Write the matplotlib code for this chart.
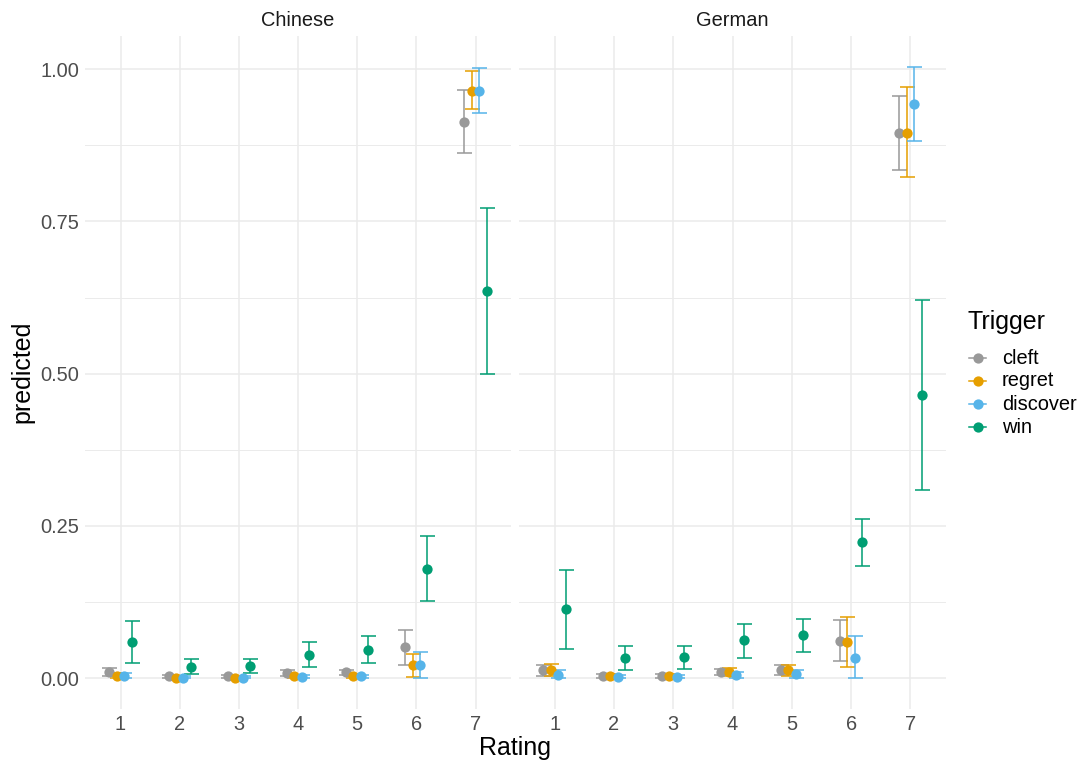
import matplotlib
matplotlib.use("Agg")
import matplotlib.pyplot as plt
from matplotlib.lines import Line2D
import numpy as np

plt.rcParams['font.family'] = ['Liberation Sans', 'DejaVu Sans']

ratings = [1, 2, 3, 4, 5, 6, 7]
triggers = ["cleft", "regret", "discover", "win"]
colors = ["#999999", "#E69F00", "#56B4E9", "#009E73"]
languages = ["Chinese", "German"]

# Chinese
zh_cleft_pred = [0.011, 0.003, 0.003, 0.009, 0.010, 0.051, 0.914]
zh_cleft_lo   = [0.004, 0.000, 0.000, 0.004, 0.005, 0.021, 0.862]
zh_cleft_hi   = [0.017, 0.006, 0.006, 0.013, 0.014, 0.080, 0.966]
zh_regret_pred = [0.004, 0.001, 0.001, 0.003, 0.004, 0.021, 0.964]
zh_regret_lo   = [0.000, 0.000, 0.000, 0.000, 0.001, 0.002, 0.934]
zh_regret_hi   = [0.008, 0.003, 0.003, 0.006, 0.007, 0.040, 0.997]
zh_discover_pred = [0.004, 0.001, 0.001, 0.002, 0.003, 0.021, 0.964]
zh_discover_lo   = [0.000, 0.000, 0.000, 0.000, 0.000, 0.000, 0.928]
zh_discover_hi   = [0.008, 0.003, 0.003, 0.005, 0.006, 0.043, 1.002]
zh_win_pred = [0.059, 0.019, 0.020, 0.038, 0.047, 0.180, 0.635]
zh_win_lo   = [0.025, 0.007, 0.008, 0.018, 0.025, 0.127, 0.499]
zh_win_hi   = [0.094, 0.031, 0.032, 0.059, 0.070, 0.233, 0.772]

# German
de_cleft_pred = [0.013, 0.004, 0.004, 0.010, 0.013, 0.061, 0.895]
de_cleft_lo   = [0.004, 0.001, 0.001, 0.005, 0.005, 0.028, 0.835]
de_cleft_hi   = [0.021, 0.007, 0.007, 0.015, 0.021, 0.095, 0.956]
de_regret_pred = [0.013, 0.004, 0.004, 0.010, 0.013, 0.060, 0.896]
de_regret_lo   = [0.003, 0.001, 0.001, 0.004, 0.004, 0.019, 0.823]
de_regret_hi   = [0.023, 0.007, 0.007, 0.016, 0.022, 0.101, 0.971]
de_discover_pred = [0.006, 0.002, 0.002, 0.005, 0.007, 0.034, 0.943]
de_discover_lo   = [0.000, 0.000, 0.000, 0.000, 0.000, 0.000, 0.882]
de_discover_hi   = [0.013, 0.005, 0.005, 0.010, 0.013, 0.069, 1.004]
de_win_pred = [0.113, 0.034, 0.035, 0.062, 0.071, 0.223, 0.465]
de_win_lo   = [0.048, 0.014, 0.015, 0.033, 0.043, 0.184, 0.309]
de_win_hi   = [0.177, 0.053, 0.053, 0.089, 0.097, 0.261, 0.621]

panels = {
    "Chinese": [(zh_cleft_pred, zh_cleft_lo, zh_cleft_hi),
                (zh_regret_pred, zh_regret_lo, zh_regret_hi),
                (zh_discover_pred, zh_discover_lo, zh_discover_hi),
                (zh_win_pred, zh_win_lo, zh_win_hi)],
    "German": [(de_cleft_pred, de_cleft_lo, de_cleft_hi),
               (de_regret_pred, de_regret_lo, de_regret_hi),
               (de_discover_pred, de_discover_lo, de_discover_hi),
               (de_win_pred, de_win_lo, de_win_hi)],
}

W, H = 1080, 762
fig = plt.figure(figsize=(W / 100, H / 100), dpi=100)
fig.patch.set_facecolor("white")

panel_px = [(85, 511), (519, 946)]
top_px, bot_px = 36, 709

grid_col = "#EBEBEB"
tick_col = "#4D4D4D"
offsets = [-0.1875, -0.0625, 0.0625, 0.1875]

axes = []
for i, lang in enumerate(languages):
    x0, x1 = panel_px[i]
    ax = fig.add_axes([x0 / W, (H - bot_px) / H, (x1 - x0) / W, (bot_px - top_px) / H])
    axes.append(ax)
    ax.set_facecolor("white")
    for s in ax.spines.values():
        s.set_visible(False)
    ax.set_xlim(0.4, 7.6)
    ax.set_ylim(-0.0505, 1.0545)
    ax.set_xticks(ratings)
    ax.set_xticklabels([str(r) for r in ratings])
    ax.set_yticks([0, 0.25, 0.5, 0.75, 1.0])
    ax.set_yticks([0.125, 0.375, 0.625, 0.875], minor=True)
    ax.grid(True, which="major", color=grid_col, linewidth=1.1, zorder=0)
    ax.grid(True, which="minor", axis="y", color=grid_col, linewidth=0.7, zorder=0)
    ax.set_axisbelow(True)
    ax.tick_params(axis="both", which="both", length=0, labelsize=14.4,
                   labelcolor=tick_col, pad=4)
    if i == 0:
        ax.set_yticklabels(["0.00", "0.25", "0.50", "0.75", "1.00"])
    else:
        ax.tick_params(axis="y", labelleft=False)
    for j, (pred, lo, hi) in enumerate(panels[lang]):
        xs = np.array(ratings) + offsets[j]
        pred = np.array(pred)
        yerr = np.vstack([pred - np.array(lo), np.array(hi) - pred])
        ax.errorbar(xs, pred, yerr=yerr, fmt="none", ecolor=colors[j],
                    elinewidth=1.1, capsize=5.4, capthick=1.1, zorder=2)
    for j, (pred, lo, hi) in enumerate(panels[lang]):
        xs = np.array(ratings) + offsets[j]
        ax.plot(xs, pred, linestyle="none", marker="o", markersize=7.4,
                markeredgewidth=0, color=colors[j], zorder=3)
    ax.set_title(lang, fontsize=14.4, color="#1A1A1A", pad=7)

fig.text(22 / W, 1 - 372 / H, "predicted", rotation=90, fontsize=18,
         ha="center", va="center", color="black")
fig.text(515 / W, 1 - 748 / H, "Rating", fontsize=18, ha="center",
         va="center", color="black")

# Legend
fig.text(967 / W, 1 - 322 / H, "Trigger", fontsize=18, ha="left",
         va="center", color="black")
entry_y = [358, 381, 404, 427]
for j, name in enumerate(triggers):
    y = 1 - entry_y[j] / H
    fig.add_artist(Line2D([969 / W, 986 / W], [y, y], transform=fig.transFigure,
                          color=colors[j], linewidth=1.1))
    fig.add_artist(Line2D([977.5 / W], [y], transform=fig.transFigure,
                          marker="o", markersize=7.4, markeredgewidth=0,
                          color=colors[j], linestyle="none"))
    fig.text(1002 / W, y, name, fontsize=14.4, ha="left", va="center",
             color="black")

fig.savefig("out.png", dpi=100, facecolor="white")
